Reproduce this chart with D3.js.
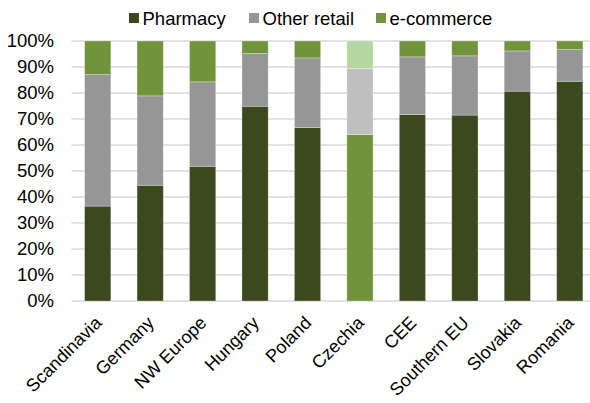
<!DOCTYPE html>
<html>
<head>
<meta charset="utf-8">
<script src="https://cdn.jsdelivr.net/npm/d3@7"></script>
<style>
  html, body { margin: 0; padding: 0; background: #fff; }
  svg { display: block; font-family: "Liberation Sans", Arial, sans-serif; }
</style>
</head>
<body>
<svg id="chart" width="590" height="403"></svg>
<script>
// Market share of channels by region (percent of sales)
const categories = ["Scandinavia", "Germany", "NW Europe", "Hungary", "Poland",
                    "Czechia", "CEE", "Southern EU", "Slovakia", "Romania"];
const pharmacy    = [36.5, 44.5, 51.8, 74.9, 66.7, 64.0, 71.7, 71.5, 80.7, 84.5];
const otherRetail = [50.6, 34.4, 32.5, 20.3, 26.8, 25.4, 22.2, 22.8, 15.5, 12.2];
const ecommerce   = [12.9, 21.1, 15.7,  4.8,  6.5, 10.6,  6.1,  5.7,  3.8,  3.3];
const seriesNames = ["Pharmacy", "Other retail", "e-commerce"];
const yTicks = [0, 10, 20, 30, 40, 50, 60, 70, 80, 90, 100];

const seriesColors = ["#3a4a1e", "#969696", "#71933b"];
// Czechia is shown in a highlighted palette
const highlightCategory = "Czechia";
const highlightColors = ["#71933b", "#bfbfbf", "#b5d6a0"];

const fontSize = "18.5px";
const svg = d3.select("#chart");
const margin = { left: 71.5, right: 596, top: 41, bottom: 301 };

const x = d3.scaleBand().domain(categories)
  .range([margin.left, margin.right]).paddingInner(0.5).paddingOuter(0.25);
const y = d3.scaleLinear().domain([0, 100]).range([margin.bottom, margin.top]);

// Gridlines
svg.append("g").selectAll("line").data(yTicks).join("line")
  .attr("x1", margin.left).attr("x2", 590)
  .attr("y1", d => y(d)).attr("y2", d => y(d))
  .attr("stroke", "#d9d9d9").attr("stroke-width", 1.5);

// Y axis labels
const yAxis = d3.axisLeft(y).tickValues(yTicks).tickFormat(d => d + "%").tickSize(0).tickPadding(0);
const yg = svg.append("g").attr("transform", "translate(54,0)").call(yAxis);
yg.select(".domain").remove();
yg.selectAll("text").attr("font-size", fontSize).attr("fill", "#000")
  .attr("font-family", "Liberation Sans, Arial, sans-serif");

// Stacked bars
const rows = categories.map((c, i) => ({ cat: c, vals: [pharmacy[i], otherRetail[i], ecommerce[i]] }));
const segs = [];
rows.forEach(r => {
  let base = 0;
  r.vals.forEach((v, k) => {
    segs.push({ cat: r.cat, k, y0: base, y1: base + v });
    base += v;
  });
});
svg.append("g").selectAll("rect").data(segs).join("rect")
  .attr("x", d => x(d.cat))
  .attr("width", x.bandwidth())
  .attr("y", d => y(d.y1))
  .attr("height", d => y(d.y0) - y(d.y1))
  .attr("fill", d => d.cat === highlightCategory ? highlightColors[d.k] : seriesColors[d.k])
  .attr("stroke", "rgba(255,255,255,0.35)").attr("stroke-width", 0.8);

// X axis labels, rotated
svg.append("g").selectAll("text").data(categories).join("text")
  .attr("transform", d => `translate(${x(d) + x.bandwidth() / 2 + 5},324) rotate(-45)`)
  .attr("text-anchor", "end")
  .attr("font-size", "18px")
  .attr("fill", "#000")
  .text(d => d);

// Legend
const legendX = [129, 249, 376];
const lg = svg.append("g").selectAll("g").data(seriesNames).join("g")
  .attr("transform", (d, i) => `translate(${legendX[i]},0)`);
lg.append("rect").attr("x", 0).attr("y", 13).attr("width", 10).attr("height", 10)
  .attr("fill", (d, i) => seriesColors[i]);
lg.append("text").attr("x", 13.5).attr("y", 25).attr("font-size", fontSize).attr("fill", "#000")
  .text(d => d);
</script>
</body>
</html>
